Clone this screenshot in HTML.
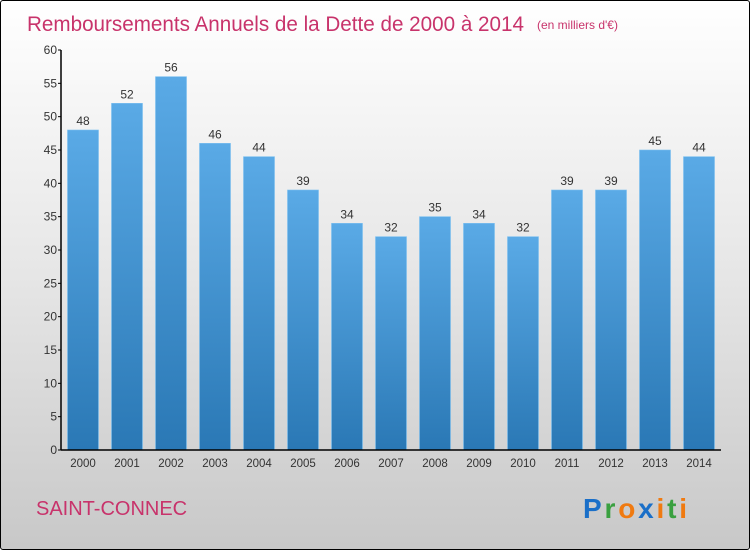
<!DOCTYPE html>
<html><head><meta charset="utf-8"><style>
body{margin:0;width:750px;height:550px;overflow:hidden;font-family:"Liberation Sans",sans-serif}
#c{position:absolute;left:0;top:0;width:748px;height:548px;border:1px solid #000;border-radius:3px;background:linear-gradient(#ffffff,#e6e6e6 50%,#c8c8c8)}
</style></head><body>
<div id="c">
<svg id="s" width="748" height="548">
<defs><linearGradient id="g" x1="0" y1="0" x2="0" y2="1"><stop offset="0" stop-color="#5aaae6"/><stop offset="1" stop-color="#2a78b5"/></linearGradient></defs>
<text x="26" y="30" font-size="21" fill="#c8336b" textLength="497" lengthAdjust="spacingAndGlyphs">Remboursements Annuels de la Dette de 2000 à 2014</text>
<text x="536" y="28" font-size="12" fill="#c8336b">(en milliers d'€)</text>
<text x="35" y="514" font-size="20" fill="#c8336b">SAINT-CONNEC</text>
<g font-size="28" font-weight="bold" font-family="Liberation Sans,sans-serif">
<text x="582" y="517" textLength="104" lengthAdjust="spacing"><tspan fill="#1a6fc8">P</tspan><tspan fill="#3aa040">r</tspan><tspan fill="#f07a10">o</tspan><tspan fill="#1a6fc8">x</tspan><tspan fill="#f07a10">i</tspan><tspan fill="#3aa040">t</tspan><tspan fill="#f07a10">i</tspan></text></g>
<g id="p"></g>
</svg></div>
<script>
const categories=["2000","2001","2002","2003","2004","2005","2006","2007","2008","2009","2010","2011","2012","2013","2014"];
const values=[48,52,56,46,44,39,34,32,35,34,32,39,39,45,44];
const yTicks=[0,5,10,15,20,25,30,35,40,45,50,55,60];
const NS="http://www.w3.org/2000/svg";
const x0=60,x1=720,y0=449,yTop=49,ymax=60;
const y=v=>y0-(v/ymax)*(y0-yTop);
const step=(x1-x0)/categories.length;
const p=document.getElementById('p');
function el(t,a){const e=document.createElementNS(NS,t);for(const k in a)e.setAttribute(k,a[k]);p.appendChild(e);return e;}
values.forEach((v,i)=>{
 const bx=x0+i*step+6.5;
 const r=el('rect',{x:bx,y:y(v),width:31,height:y0-y(v),fill:'url(#g)',stroke:'#7cc0f0','stroke-width':0.6});
 
 
 const t=el('text',{x:bx+15.5,y:y(v)-5,'font-size':12,fill:'#333','text-anchor':'middle'});
 t.textContent=v;
 
 
 const c=el('text',{x:bx+15.5,y:466,'font-size':11.5,fill:'#333','text-anchor':'middle'});
 c.textContent=categories[i];
 
 
});
yTicks.forEach(v=>{
 const l=el('line',{x1:x0-3,x2:x0,y1:y(v),y2:y(v),stroke:'#000'});
 
 
 const t=el('text',{x:x0-4,y:y(v)+4,'font-size':12,fill:'#333','text-anchor':'end'});
 t.textContent=v;
 
 
});
const ya=el('line',{x1:x0,x2:x0,y1:yTop,y2:y0,stroke:'#000','stroke-width':1.5});


const xa=el('line',{x1:x0,x2:x1,y1:y0,y2:y0,stroke:'#000','stroke-width':1.5});


</script>
</body></html>
